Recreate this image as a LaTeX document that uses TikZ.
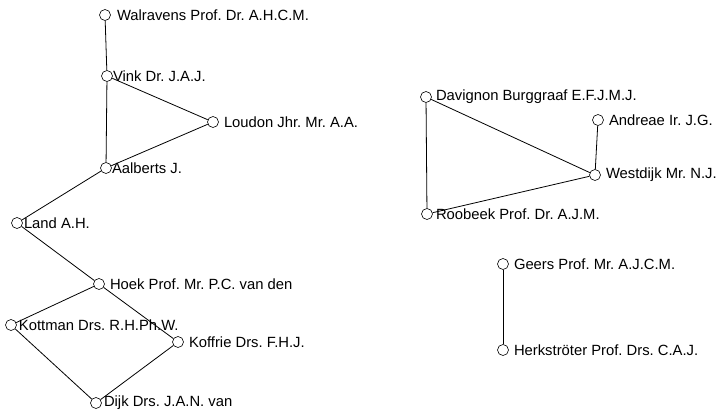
\documentclass[tikz,border=0pt]{standalone}
\usepackage{fontspec}
\setmainfont{Liberation Sans}
\begin{document}
\frenchspacing
\begin{tikzpicture}[x=1pt,y=-1pt,
  vtx/.style={circle,draw,fill=white,inner sep=0pt,minimum size=11pt,line width=0.6pt},
  lbl/.style={anchor=west,inner sep=0pt,font=\fontsize{14.8}{17}\selectfont},
  edge/.style={line width=0.8pt}]
\useasboundingbox (0,0) rectangle (718,416);
\node[vtx] (wal) at (105,15) {};
\node[vtx] (vin) at (107,76) {};
\node[vtx] (lou) at (213,122) {};
\node[vtx] (aal) at (106,168) {};
\node[vtx] (lan) at (17,223) {};
\node[vtx] (hoe) at (99,284) {};
\node[vtx] (kot) at (11,325) {};
\node[vtx] (kof) at (178,342) {};
\node[vtx] (dij) at (96,403) {};
\node[vtx] (dav) at (426,97) {};
\node[vtx] (and) at (598,120) {};
\node[vtx] (wes) at (595,175) {};
\node[vtx] (roo) at (427,214) {};
\node[vtx] (gee) at (503,264) {};
\node[vtx] (her) at (503,350) {};
\draw[edge] (wal) -- (vin);
\draw[edge] (vin) -- (lou);
\draw[edge] (vin) -- (aal);
\draw[edge] (lou) -- (aal);
\draw[edge] (aal) -- (lan);
\draw[edge] (lan) -- (hoe);
\draw[edge] (hoe) -- (kot);
\draw[edge] (hoe) -- (kof);
\draw[edge] (kot) -- (dij);
\draw[edge] (kof) -- (dij);
\draw[edge] (dav) -- (wes);
\draw[edge] (dav) -- (roo);
\draw[edge] (roo) -- (wes);
\draw[edge] (and) -- (wes);
\draw[edge] (gee) -- (her);
\node[lbl] (twal) at ([xshift=6pt]wal.east) {Walravens Prof. Dr. A.H.C.M.};
\node[lbl] (tvin) at ([xshift=0pt]vin.east) {Vink Dr. J.A.J.};
\node[lbl] (tlou) at ([xshift=5pt]lou.east) {Loudon Jhr. Mr. A.A.};
\node[lbl] (taal) at ([xshift=0pt]aal.east) {Aalberts J.};
\node[lbl] (tlan) at ([xshift=1pt]lan.east) {Land A.H.};
\node[lbl] (thoe) at ([xshift=5pt]hoe.east) {Hoek Prof. Mr. P.C. van den};
\node[lbl] (tkot) at ([xshift=2pt]kot.east) {Kottman Drs. R.H.Ph.W.};
\node[lbl] (tkof) at ([xshift=5pt]kof.east) {Koffrie Drs. F.H.J.};
\node[lbl] (tdij) at ([xshift=2pt]dij.east) {Dijk Drs. J.A.N. van};
\node[lbl] (tdav) at ([xshift=4pt]dav.east) {Davignon Burggraaf E.F.J.M.J.};
\node[lbl] (tand) at ([xshift=5pt]and.east) {Andreae Ir. J.G.};
\node[lbl] (twes) at ([xshift=5pt]wes.east) {Westdijk Mr. N.J.};
\node[lbl] (troo) at ([xshift=3pt]roo.east) {Roobeek Prof. Dr. A.J.M.};
\node[lbl] (tgee) at ([xshift=5pt]gee.east) {Geers Prof. Mr. A.J.C.M.};
\node[lbl] (ther) at ([xshift=5pt]her.east) {Herkströter Prof. Drs. C.A.J.};
\end{tikzpicture}
\end{document}
